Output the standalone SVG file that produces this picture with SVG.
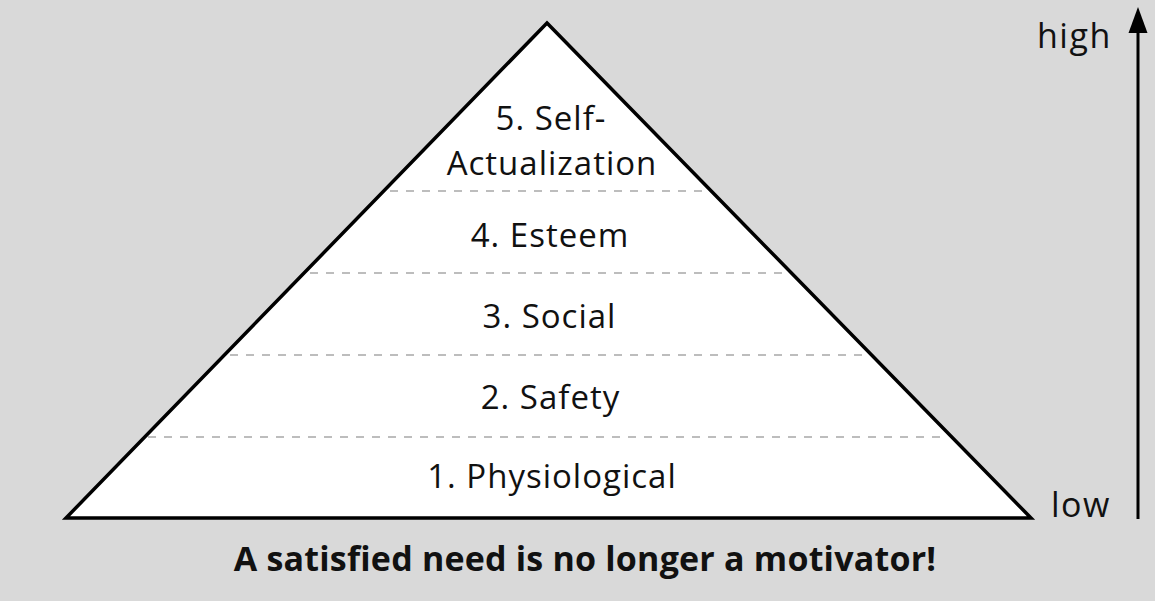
<svg xmlns="http://www.w3.org/2000/svg" width="1155" height="601" viewBox="0 0 1155 601">
<style>
.lbl{font-family:"Open Sans","Noto Sans","Liberation Sans",sans-serif;font-size:33px;letter-spacing:1px;fill:#111;text-anchor:middle}
.cap{font-family:"Open Sans","Noto Sans","Liberation Sans",sans-serif;font-size:34px;letter-spacing:0.2px;font-weight:bold;fill:#111;text-anchor:middle}
.axis{font-family:"Open Sans","Noto Sans","Liberation Sans",sans-serif;font-size:34px;letter-spacing:1.5px;fill:#111}
.dash{stroke:#bdbdbd;stroke-width:2;stroke-dasharray:8 8;fill:none}
</style>
<rect x="0" y="0" width="1155" height="601" fill="#d9d9d9"/>
<g id="pyramid">
<polygon points="547,23 1031,518 66,518" fill="#ffffff" stroke="#000" stroke-width="3.5" stroke-linejoin="miter"/>
</g>
<g id="connectors">
<line class="dash" x1="390" y1="191" x2="705" y2="191"/>
<line class="dash" x1="310" y1="273" x2="785" y2="273"/>
<line class="dash" x1="230" y1="355" x2="865" y2="355"/>
<line class="dash" x1="148" y1="437" x2="947" y2="437"/>
<line x1="1138" y1="519" x2="1138" y2="28" stroke="#000" stroke-width="3"/>
<polygon points="1138,7 1128.5,33 1147.5,33" fill="#000"/>
</g>
<g id="level5"><text class="lbl" x="551" y="130">5. Self-</text><text class="lbl" x="552" y="175">Actualization</text></g>
<g id="level4"><text class="lbl" x="550" y="247">4. Esteem</text></g>
<g id="level3"><text class="lbl" x="549.5" y="328">3. Social</text></g>
<g id="level2"><text class="lbl" x="550.5" y="409">2. Safety</text></g>
<g id="level1"><text class="lbl" x="552" y="488">1. Physiological</text></g>
<g id="axis-labels"><text class="axis" x="1037" y="48">high</text><text class="axis" x="1051" y="517">low</text></g>
<g id="caption"><text class="cap" x="585" y="571">A satisfied need is no longer a motivator!</text></g>
</svg>
